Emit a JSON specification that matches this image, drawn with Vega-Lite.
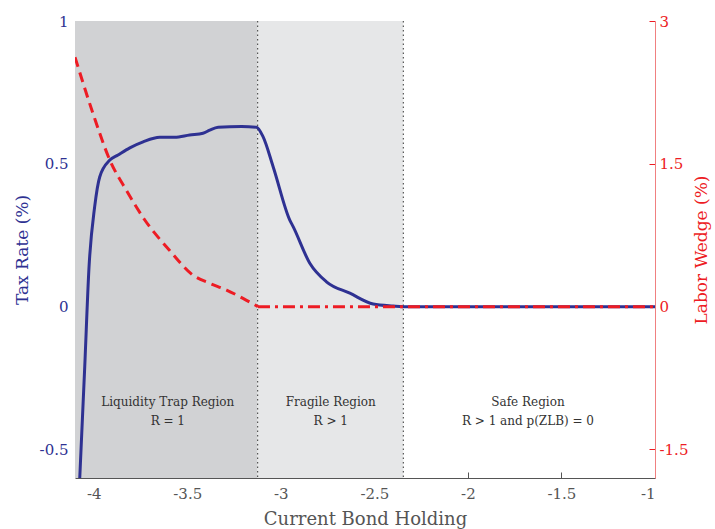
{
  "$schema": "https://vega.github.io/schema/vega-lite/v6.json",
  "width": 580,
  "height": 457,
  "autosize": {"type": "none"},
  "padding": {"left": 75, "top": 21, "right": 60, "bottom": 51},
  "background": "white",
  "config": {
    "view": {"stroke": null},
    "font": "DejaVu Serif",
    "axis": {"labelFont": "DejaVu Serif", "titleFont": "DejaVu Serif", "titleFontWeight": "normal", "grid": false}
  },
  "datasets": {
    "regions": [
      {"x1": -4.1, "x2": -3.124, "region": "Liquidity Trap"},
      {"x1": -3.124, "x2": -2.345, "region": "Fragile"}
    ],
    "bounds": [{"b": -3.124}, {"b": -2.345}],
    "tax": [
      {"bond": -4.078, "tax": -0.65},
      {"bond": -4.048, "tax": -0.211},
      {"bond": -4.025, "tax": 0.139},
      {"bond": -3.995, "tax": 0.349},
      {"bond": -3.968, "tax": 0.454},
      {"bond": -3.914, "tax": 0.513},
      {"bond": -3.870, "tax": 0.531},
      {"bond": -3.807, "tax": 0.556},
      {"bond": -3.736, "tax": 0.577},
      {"bond": -3.647, "tax": 0.593},
      {"bond": -3.567, "tax": 0.593},
      {"bond": -3.487, "tax": 0.601},
      {"bond": -3.416, "tax": 0.607},
      {"bond": -3.380, "tax": 0.618},
      {"bond": -3.335, "tax": 0.628},
      {"bond": -3.210, "tax": 0.631},
      {"bond": -3.130, "tax": 0.628},
      {"bond": -3.095, "tax": 0.595},
      {"bond": -3.041, "tax": 0.490},
      {"bond": -2.952, "tax": 0.303},
      {"bond": -2.934, "tax": 0.280},
      {"bond": -2.845, "tax": 0.152},
      {"bond": -2.756, "tax": 0.087},
      {"bond": -2.631, "tax": 0.047},
      {"bond": -2.506, "tax": 0.009},
      {"bond": -2.399, "tax": 0.002},
      {"bond": -2.348, "tax": 0.0},
      {"bond": -1.0, "tax": 0.0}
    ],
    "wedge": [
      {"bond": -4.1, "wedge": 2.62, "seg": "trap"},
      {"bond": -4.004, "wedge": 2.03, "seg": "trap"},
      {"bond": -3.914, "wedge": 1.54, "seg": "trap"},
      {"bond": -3.825, "wedge": 1.22, "seg": "trap"},
      {"bond": -3.727, "wedge": 0.91, "seg": "trap"},
      {"bond": -3.594, "wedge": 0.59, "seg": "trap"},
      {"bond": -3.469, "wedge": 0.33, "seg": "trap"},
      {"bond": -3.380, "wedge": 0.245, "seg": "trap"},
      {"bond": -3.290, "wedge": 0.174, "seg": "trap"},
      {"bond": -3.202, "wedge": 0.087, "seg": "trap"},
      {"bond": -3.122, "wedge": 0.0, "seg": "trap"},
      {"bond": -3.122, "wedge": 0.0, "seg": "flat"},
      {"bond": -1.0, "wedge": 0.0, "seg": "flat"}
    ],
    "labels": [
      {"bond": -3.604, "y": -0.334, "text": "Liquidity Trap Region"},
      {"bond": -3.604, "y": -0.40, "text": "R = 1"},
      {"bond": -2.733, "y": -0.334, "text": "Fragile Region"},
      {"bond": -2.733, "y": -0.40, "text": "R > 1"},
      {"bond": -1.679, "y": -0.334, "text": "Safe Region"},
      {"bond": -1.679, "y": -0.40, "text": "R > 1 and p(ZLB) = 0"}
    ]
  },
  "layer": [
    {
      "data": {"name": "regions"},
      "mark": {"type": "rect"},
      "encoding": {
        "x": {"field": "x1", "type": "quantitative", "scale": {"domain": [-4.1, -1], "nice": false, "zero": false},
          "axis": {"values": [-4, -3.5, -3, -2.5, -2, -1.5, -1], "labelExpr": "'' + datum.value", "title": "Current Bond Holding",
            "labelColor": "#555555", "labelFontSize": 15, "titleColor": "#555555", "titleFontSize": 18,
            "domainColor": "#555555", "tickColor": "#555555", "tickSize": -6, "labelPadding": 14, "titlePadding": 9}},
        "x2": {"field": "x2"},
        "color": {"field": "region", "type": "nominal", "scale": {"domain": ["Liquidity Trap", "Fragile"], "range": ["#D1D2D4", "#E6E7E8"]}, "legend": null}
      }
    },
    {
      "data": {"name": "bounds"},
      "mark": {"type": "rule", "color": "#555555", "strokeDash": [1.5, 3], "strokeWidth": 1.2},
      "encoding": {"x": {"field": "b", "type": "quantitative"}}
    },
    {
      "data": {"name": "tax"},
      "mark": {"type": "line", "color": "#2E3192", "strokeWidth": 3, "clip": true, "interpolate": "monotone"},
      "encoding": {
        "x": {"field": "bond", "type": "quantitative"},
        "y": {"field": "tax", "type": "quantitative", "scale": {"domain": [-0.6, 1], "nice": false, "zero": false},
          "axis": {"orient": "left", "values": [-0.5, 0, 0.5, 1], "labelExpr": "'' + datum.value", "title": "Tax Rate (%)",
            "labelColor": "#2E3192", "labelFontSize": 15, "titleColor": "#2E3192", "titleFontSize": 17,
            "domain": false, "ticks": false, "labelPadding": 7, "titlePadding": 8}}
      }
    },
    {
      "data": {"name": "wedge"},
      "mark": {"type": "line", "color": "#ED1C24", "strokeWidth": 3, "clip": true, "interpolate": "monotone"},
      "encoding": {
        "x": {"field": "bond", "type": "quantitative"},
        "y": {"field": "wedge", "type": "quantitative", "scale": {"domain": [-1.8, 3], "nice": false, "zero": false},
          "axis": {"orient": "right", "values": [-1.5, 0, 1.5, 3], "labelExpr": "'' + datum.value", "title": "Labor Wedge (%)",
            "labelColor": "#ED1C24", "labelFontSize": 15, "titleColor": "#ED1C24", "titleFontSize": 17,
            "titleAngle": 270, "titleBaseline": "bottom",
            "domainColor": "#F08080", "tickColor": "#ED1C24", "tickSize": -6, "labelPadding": 10, "titlePadding": 23}},
        "strokeDash": {"field": "seg", "type": "nominal", "scale": {"domain": ["trap", "flat"], "range": [[10, 6], [12, 5, 3, 5]]}, "legend": null}
      }
    },
    {
      "data": {"name": "labels"},
      "mark": {"type": "text", "fontSize": 12, "color": "#333333", "align": "center", "baseline": "middle"},
      "encoding": {
        "x": {"field": "bond", "type": "quantitative"},
        "y": {"field": "y", "type": "quantitative", "scale": {"domain": [-0.6, 1], "nice": false, "zero": false}, "axis": null},
        "text": {"field": "text"}
      }
    }
  ],
  "resolve": {"scale": {"y": "independent", "strokeDash": "independent", "color": "independent"}}
}
